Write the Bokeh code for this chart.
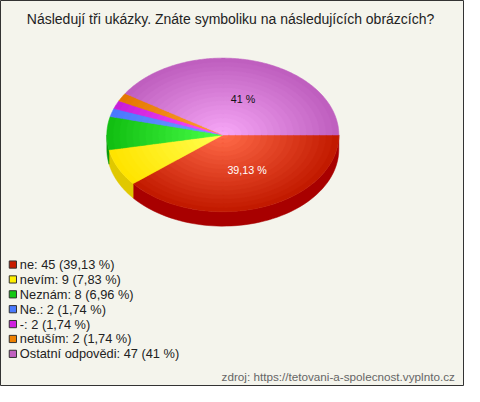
import numpy as np
from bokeh.plotting import figure
from bokeh.models import Range1d
from bokeh.embed import file_html
from bokeh.resources import INLINE
from bokeh.core.properties import value

title = "Následují tři ukázky. Znáte symboliku na následujících obrázcích?"
source_note = "zdroj: https://tetovani-a-spolecnost.vyplnto.cz"
labels = ["ne", "nevím", "Neznám", "Ne.", "-", "netuším", "Ostatní odpovědi"]
counts = [45, 9, 8, 2, 2, 2, 47]
percents = [39.13, 7.83, 6.96, 1.74, 1.74, 1.74, 41.0]
pct_text = ["39,13", "7,83", "6,96", "1,74", "1,74", "1,74", "41"]

edge_colors = ["#c21a00", "#ffe400", "#12bf12", "#4a78ff", "#c81ed8", "#e47800", "#bf5fbf"]
center_colors = ["#ff6a48", "#ffff50", "#48ff48", "#70a0ff", "#ff50ff", "#ffa030", "#f6a6f6"]
side_colors = ["#a80000", "#e0c800", "#0a9a0a", "#3050c0", "#9010a0", "#b85800", "#904090"]
legend_colors = ["#c81c00", "#fff000", "#14c814", "#4a7aff", "#d020e0", "#ee8000", "#c060c0"]
label_colors = ["#ffffff", "#000000", "#000000", "#000000", "#000000", "#000000", "#111111"]

BG = "#f4f4ec"
W, H = 464, 386
p = figure(width=W, height=H, x_range=Range1d(0, 480), y_range=Range1d(402, 0),
           output_backend="svg", toolbar_location=None, min_border=0)
p.axis.visible = False
p.grid.visible = False
p.background_fill_color = BG
p.border_fill_color = BG
p.outline_line_color = "#333333"
p.outline_line_width = 1

cx, cy, rx, ry, depth = 230.0, 140.0, 120.0, 80.0, 15.0

vals = np.array(percents, dtype=float)
cum = np.concatenate([[0.0], np.cumsum(vals)]) / vals.sum() * 360.0


def hex2rgb(h):
    h = h.lstrip("#")
    return np.array([int(h[i:i + 2], 16) for i in (0, 2, 4)], dtype=float)


def mix(c1, c2, t):
    c = hex2rgb(c1) * (1 - t) + hex2rgb(c2) * t
    return "#%02x%02x%02x" % tuple(int(round(v)) for v in c)


# side walls (front half only)
sx, sy, sc = [], [], []
for i in range(len(vals)):
    a, b = max(cum[i], 0.0), min(cum[i + 1], 180.0)
    if b <= a:
        continue
    t = np.radians(np.linspace(a, b, 60))
    xs = cx + rx * np.cos(t)
    ys = cy + ry * np.sin(t)
    px = np.concatenate([xs, xs[::-1]])
    py = np.concatenate([ys, ys[::-1] + depth])
    sx.append(list(px))
    sy.append(list(py))
    sc.append(side_colors[i])
p.patches(sx, sy, fill_color=sc, line_color=sc, line_width=0.5)

# top faces with radial gradient layers
N = 18
tx, ty, tc = [], [], []
for k in range(N):
    f = 1.0 - 0.95 * k / (N - 1)
    tt = k / (N - 1)
    for i in range(len(vals)):
        t = np.radians(np.linspace(cum[i], cum[i + 1], max(8, int((cum[i + 1] - cum[i]) * 1.5))))
        xs = np.concatenate([[cx], cx + f * rx * np.cos(t)])
        ys = np.concatenate([[cy], cy + f * ry * np.sin(t)])
        tx.append(list(xs))
        ty.append(list(ys))
        tc.append(mix(edge_colors[i], center_colors[i], tt))
p.patches(tx, ty, fill_color=tc, line_color=tc, line_width=0.6)

# slice labels
lx, ly, lt, lc = [], [], [], []
for i in range(len(vals)):
    if percents[i] < 10:
        continue
    m = np.radians((cum[i] + cum[i + 1]) / 2)
    lx.append(cx + rx * 0.62 * np.cos(m))
    ly.append(cy + ry * 0.49 * np.sin(m))
    lt.append(pct_text[i] + " %")
    lc.append(label_colors[i])
p.text(lx, ly, text=lt, text_color=lc, text_font=value("Liberation Sans"),
       text_font_size="10.7px", text_align="center", text_baseline="middle")

# title
p.text([238], [19], text=[title], text_color="#222222", text_font=value("Liberation Sans"),
       text_font_size="14px", text_align="center", text_baseline="middle")

# legend
rows = [275 + i * 15.5 for i in range(len(labels))]
p.rect([12.8] * len(labels), rows, width=7.5, height=7.5, fill_color=legend_colors,
       line_color="#333333", line_width=1)
leg_txt = [f"{labels[i]}: {counts[i]} ({pct_text[i]} %)" for i in range(len(labels))]
p.text([20] * len(labels), rows, text=leg_txt, text_color="#222222",
       text_font=value("Liberation Sans"), text_font_size="12.8px",
       text_align="left", text_baseline="middle")

# source
p.text([470], [392], text=[source_note], text_color="#666666",
       text_font=value("Liberation Sans"), text_font_size="11.7px",
       text_align="right", text_baseline="middle")

open("out.html", "w").write(file_html(p, INLINE))
